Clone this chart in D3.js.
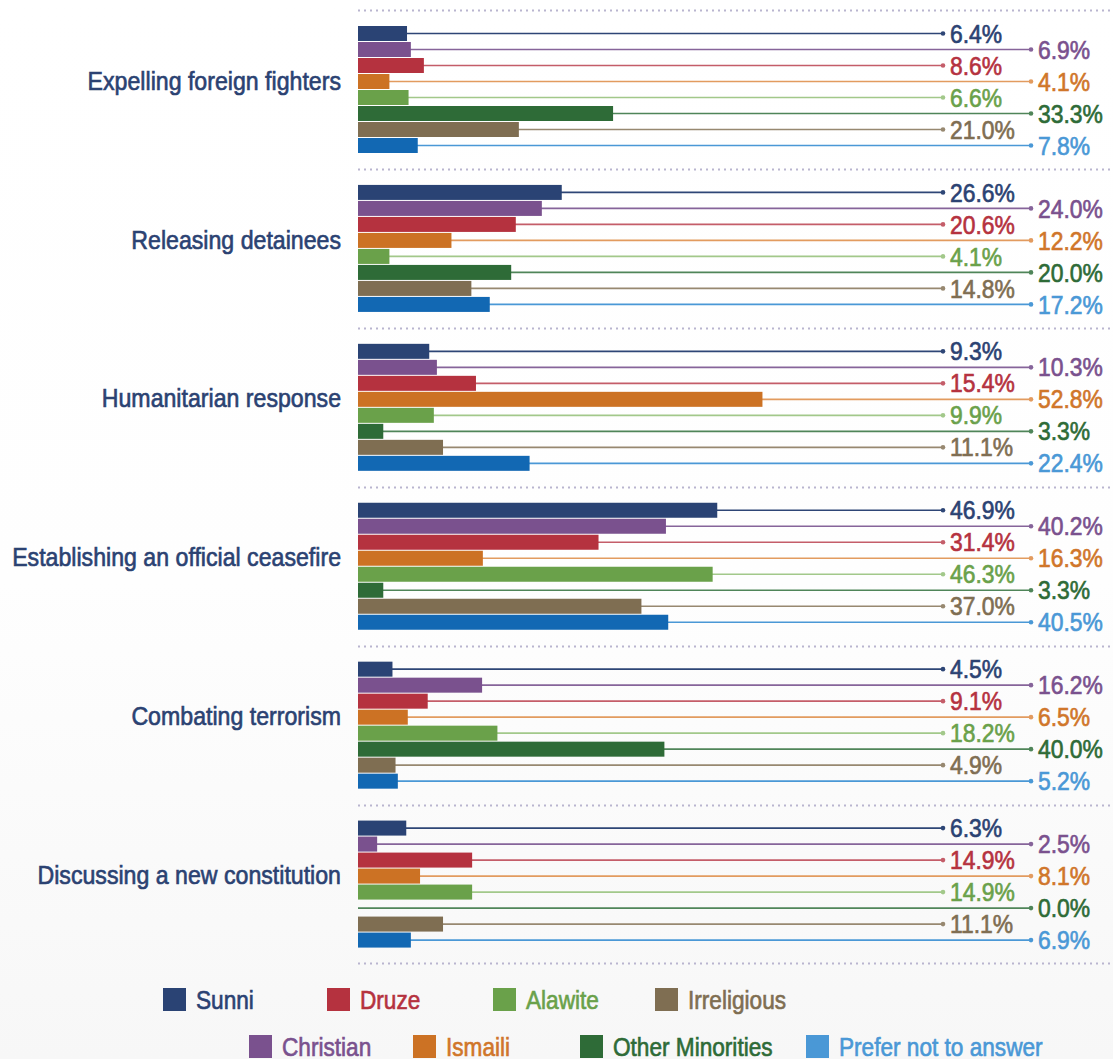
<!DOCTYPE html>
<html>
<head>
<meta charset="utf-8">
<script src="https://cdn.jsdelivr.net/npm/d3@7"></script>
<style>
  html, body { margin: 0; padding: 0; }
  body { width: 1113px; height: 1059px; overflow: hidden; }
  svg text { font-family: "Liberation Sans", Arial, sans-serif; }
</style>
</head>
<body>
<svg id="chart" width="1113" height="1059"></svg>
<script>
// Priorities by respondent group (% of respondents)
const categories = [
  "Expelling foreign fighters",
  "Releasing detainees",
  "Humanitarian response",
  "Establishing an official ceasefire",
  "Combating terrorism",
  "Discussing a new constitution"
];
const series = ["Sunni", "Christian", "Druze", "Ismaili", "Alawite", "Other Minorities", "Irreligious", "Prefer not to answer"];

const sunni      = [6.4, 26.6, 9.3, 46.9, 4.5, 6.3];
const christian  = [6.9, 24.0, 10.3, 40.2, 16.2, 2.5];
const druze      = [8.6, 20.6, 15.4, 31.4, 9.1, 14.9];
const ismaili    = [4.1, 12.2, 52.8, 16.3, 6.5, 8.1];
const alawite    = [6.6, 4.1, 9.9, 46.3, 18.2, 14.9];
const minorities = [33.3, 20.0, 3.3, 3.3, 40.0, 0.0];
const irreligious= [21.0, 14.8, 11.1, 37.0, 4.9, 11.1];
const preferNot  = [7.8, 17.2, 22.4, 40.5, 5.2, 6.9];
const seriesValues = [sunni, christian, druze, ismaili, alawite, minorities, irreligious, preferNot];

// Legend order, two rows
const legendRow1 = ["Sunni", "Druze", "Alawite", "Irreligious"];
const legendRow2 = ["Christian", "Ismaili", "Other Minorities", "Prefer not to answer"];

const barColor   = ["#2a4374", "#7a518e", "#b5323f", "#cc7224", "#6aa14a", "#2e6b37", "#7f6e52", "#1268b3"];
const lineColor  = ["#2e4676", "#86649a", "#c45d69", "#e29b5f", "#a2c88a", "#4f8559", "#978870", "#4a98d6"];
const textColor  = ["#2b4272", "#7a518e", "#b5323f", "#d0762a", "#6aa14a", "#2e6b37", "#7f6e52", "#4a98d6"];
const swatchColor= ["#2a4374", "#7a518e", "#b5323f", "#cc7224", "#6aa14a", "#2e6b37", "#7f6e52", "#4a98d6"];

const svg = d3.select("#chart");

// soft background wash
const defs = svg.append("defs");
const grad = defs.append("linearGradient").attr("id", "bg").attr("x1", 0).attr("y1", 0).attr("x2", 0).attr("y2", 1);
grad.append("stop").attr("offset", "0%").attr("stop-color", "#ffffff");
grad.append("stop").attr("offset", "55%").attr("stop-color", "#fefefe");
grad.append("stop").attr("offset", "100%").attr("stop-color", "#f7f7f7");
svg.append("rect").attr("width", 1113).attr("height", 1059).attr("fill", "url(#bg)");

const x = d3.scaleLinear().domain([0, 100]).range([358, 1124]);
const yGroup = d3.scaleBand().domain(categories).range([10, 963.5]).paddingInner(0).paddingOuter(0);
const yBar = d3.scaleBand().domain(series).range([16, 143]).paddingInner(1 / 16).paddingOuter(0);

const dotX = [943, 1031];

// condensed text: regular face squeezed horizontally, lightly stroked for weight
function condensed(sel, sx, size, tx, ty) {
  return sel
    .attr("transform", (d, i) => `translate(${tx(d, i)},${ty(d, i)}) scale(${sx},1)`)
    .attr("dy", "0.35em")
    .attr("font-size", size)
    .attr("stroke-width", 0.65);
}

// dotted separators
const seps = categories.map(c => yGroup(c)).concat([yGroup(categories[categories.length - 1]) + yGroup.step()]);
svg.append("g").selectAll("line").data(seps).join("line")
  .attr("x1", 358).attr("x2", 1112)
  .attr("y1", d => Math.round(d) + 0.5).attr("y2", d => Math.round(d) + 0.5)
  .attr("stroke", "#b9b5cf").attr("stroke-width", 2).attr("stroke-dasharray", "2,4");

const groups = svg.append("g").selectAll("g.group").data(categories).join("g")
  .attr("class", "group")
  .attr("transform", d => `translate(0,${yGroup(d)})`);

// category labels
condensed(groups.append("text"), 0.89, 26, () => 341, () => yBar(series[3]) + yBar.bandwidth() / 2 - 1)
  .attr("text-anchor", "end")
  .attr("fill", "#2b4272")
  .attr("stroke", "#2b4272")
  .text(d => d);

groups.each(function (cat, ci) {
  const g = d3.select(this);
  const rows = series.map((s, si) => ({ s, si, v: seriesValues[si][ci] }));
  const cy = d => yBar(d.s) + yBar.bandwidth() / 2;

  // leader lines
  g.selectAll("line.leader").data(rows).join("line")
    .attr("class", "leader")
    .attr("x1", x(0)).attr("x2", d => dotX[d.si % 2])
    .attr("y1", cy).attr("y2", cy)
    .attr("stroke", d => lineColor[d.si]).attr("stroke-width", 1.6);

  g.selectAll("circle").data(rows).join("circle")
    .attr("cx", d => dotX[d.si % 2])
    .attr("cy", cy)
    .attr("r", 2.3)
    .attr("fill", d => lineColor[d.si]);

  // bars
  g.selectAll("rect").data(rows).join("rect")
    .attr("x", x(0))
    .attr("y", d => yBar(d.s))
    .attr("width", d => x(d.v) - x(0))
    .attr("height", yBar.bandwidth())
    .attr("fill", d => barColor[d.si]);

  // value labels
  condensed(g.selectAll("text.val").data(rows).join("text").attr("class", "val"),
      0.88, 26, d => dotX[d.si % 2] + 7, cy)
    .attr("fill", d => textColor[d.si])
    .attr("stroke", d => textColor[d.si])
    .text(d => d.v.toFixed(1) + "%");
});

// legend
const legendX1 = [163, 327, 493, 655];
const legendX2 = [249, 413, 580, 806];
function drawLegend(names, xs, top) {
  const lg = svg.append("g").selectAll("g").data(names).join("g")
    .attr("transform", (d, i) => `translate(${xs[i]},${top})`);
  lg.append("rect").attr("width", 23).attr("height", 23)
    .attr("fill", d => swatchColor[series.indexOf(d)]);
  condensed(lg.append("text"), 0.87, 26, () => 33, () => 12)
    .attr("fill", d => textColor[series.indexOf(d)])
    .attr("stroke", d => textColor[series.indexOf(d)])
    .text(d => d);
}
drawLegend(legendRow1, legendX1, 988);
drawLegend(legendRow2, legendX2, 1035);
</script>
</body>
</html>
